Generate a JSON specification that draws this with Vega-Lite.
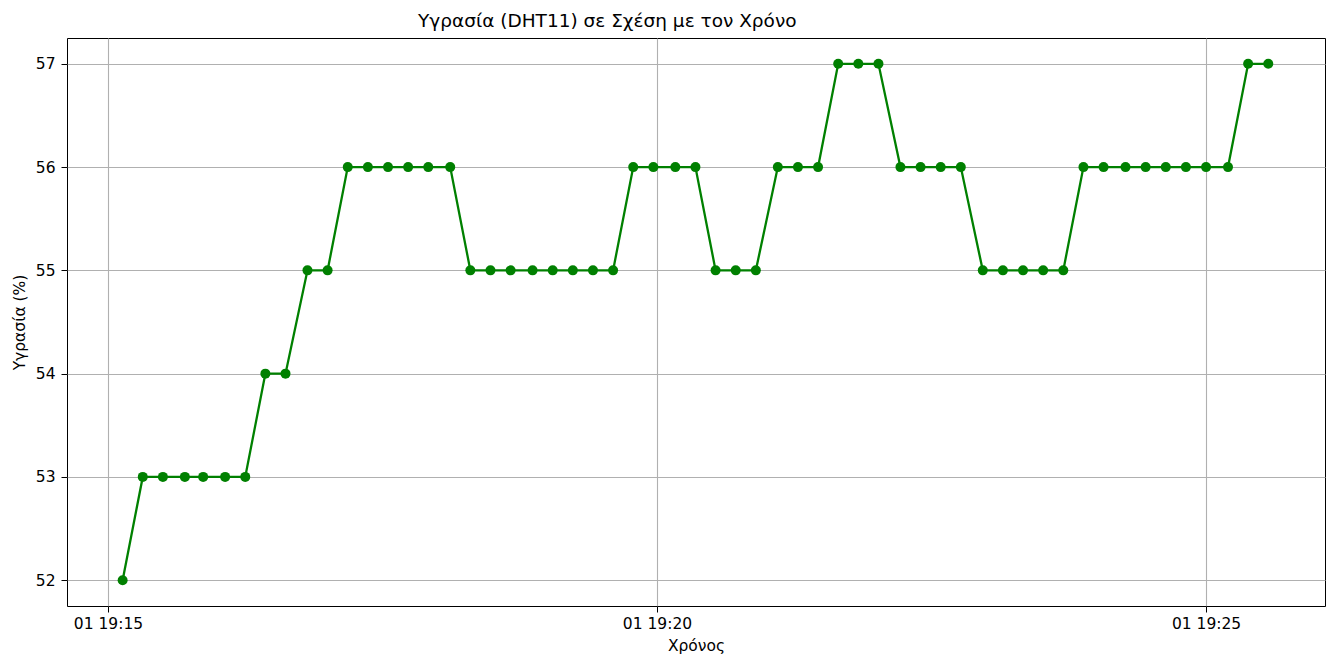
{
  "$schema": "https://vega.github.io/schema/vega-lite/v6.json",
  "autosize": "none",
  "width": 1258,
  "height": 568,
  "padding": {"left": 67, "top": 38, "right": 8, "bottom": 49},
  "background": "white",
  "title": {
    "text": "Υγρασία (DHT11) σε Σχέση με τον Χρόνο",
    "anchor": "start",
    "frame": "group",
    "dx": 351,
    "offset": 8,
    "font": "DejaVu Sans",
    "fontSize": 18.5,
    "fontWeight": "normal",
    "color": "black"
  },
  "config": {
    "view": {"stroke": "black", "strokeWidth": 1},
    "axis": {
      "labelFont": "DejaVu Sans",
      "labelFontSize": 15.5,
      "labelColor": "black",
      "titleFont": "DejaVu Sans",
      "titleFontSize": 15.5,
      "titleFontWeight": "normal",
      "titleColor": "black",
      "tickColor": "black",
      "tickSize": 6,
      "tickWidth": 1,
      "labelPadding": 4,
      "gridColor": "#b0b0b0",
      "gridWidth": 1.1,
      "gridOpacity": 1,
      "domain": false
    }
  },
  "data": {
    "values": [
      {"time": "2024-01-01T19:15:08", "humidity": 52},
      {"time": "2024-01-01T19:15:19", "humidity": 53},
      {"time": "2024-01-01T19:15:30", "humidity": 53},
      {"time": "2024-01-01T19:15:42", "humidity": 53},
      {"time": "2024-01-01T19:15:52", "humidity": 53},
      {"time": "2024-01-01T19:16:04", "humidity": 53},
      {"time": "2024-01-01T19:16:15", "humidity": 53},
      {"time": "2024-01-01T19:16:26", "humidity": 54},
      {"time": "2024-01-01T19:16:37", "humidity": 54},
      {"time": "2024-01-01T19:16:49", "humidity": 55},
      {"time": "2024-01-01T19:17:00", "humidity": 55},
      {"time": "2024-01-01T19:17:11", "humidity": 56},
      {"time": "2024-01-01T19:17:22", "humidity": 56},
      {"time": "2024-01-01T19:17:33", "humidity": 56},
      {"time": "2024-01-01T19:17:44", "humidity": 56},
      {"time": "2024-01-01T19:17:55", "humidity": 56},
      {"time": "2024-01-01T19:18:07", "humidity": 56},
      {"time": "2024-01-01T19:18:18", "humidity": 55},
      {"time": "2024-01-01T19:18:29", "humidity": 55},
      {"time": "2024-01-01T19:18:40", "humidity": 55},
      {"time": "2024-01-01T19:18:52", "humidity": 55},
      {"time": "2024-01-01T19:19:03", "humidity": 55},
      {"time": "2024-01-01T19:19:14", "humidity": 55},
      {"time": "2024-01-01T19:19:25", "humidity": 55},
      {"time": "2024-01-01T19:19:36", "humidity": 55},
      {"time": "2024-01-01T19:19:47", "humidity": 56},
      {"time": "2024-01-01T19:19:58", "humidity": 56},
      {"time": "2024-01-01T19:20:10", "humidity": 56},
      {"time": "2024-01-01T19:20:21", "humidity": 56},
      {"time": "2024-01-01T19:20:32", "humidity": 55},
      {"time": "2024-01-01T19:20:43", "humidity": 55},
      {"time": "2024-01-01T19:20:54", "humidity": 55},
      {"time": "2024-01-01T19:21:06", "humidity": 56},
      {"time": "2024-01-01T19:21:17", "humidity": 56},
      {"time": "2024-01-01T19:21:28", "humidity": 56},
      {"time": "2024-01-01T19:21:39", "humidity": 57},
      {"time": "2024-01-01T19:21:50", "humidity": 57},
      {"time": "2024-01-01T19:22:01", "humidity": 57},
      {"time": "2024-01-01T19:22:13", "humidity": 56},
      {"time": "2024-01-01T19:22:24", "humidity": 56},
      {"time": "2024-01-01T19:22:35", "humidity": 56},
      {"time": "2024-01-01T19:22:46", "humidity": 56},
      {"time": "2024-01-01T19:22:58", "humidity": 55},
      {"time": "2024-01-01T19:23:09", "humidity": 55},
      {"time": "2024-01-01T19:23:20", "humidity": 55},
      {"time": "2024-01-01T19:23:31", "humidity": 55},
      {"time": "2024-01-01T19:23:42", "humidity": 55},
      {"time": "2024-01-01T19:23:53", "humidity": 56},
      {"time": "2024-01-01T19:24:04", "humidity": 56},
      {"time": "2024-01-01T19:24:16", "humidity": 56},
      {"time": "2024-01-01T19:24:27", "humidity": 56},
      {"time": "2024-01-01T19:24:38", "humidity": 56},
      {"time": "2024-01-01T19:24:49", "humidity": 56},
      {"time": "2024-01-01T19:25:00", "humidity": 56},
      {"time": "2024-01-01T19:25:12", "humidity": 56},
      {"time": "2024-01-01T19:25:23", "humidity": 57},
      {"time": "2024-01-01T19:25:34", "humidity": 57}
    ]
  },
  "encoding": {
    "x": {
      "field": "time",
      "type": "temporal",
      "title": "Χρόνος",
      "scale": {
        "domain": [
          {"year": 2024, "month": 1, "date": 1, "hours": 19, "minutes": 14, "seconds": 37, "milliseconds": 600},
          {"year": 2024, "month": 1, "date": 1, "hours": 19, "minutes": 26, "seconds": 5}
        ]
      },
      "axis": {
        "values": [
          {"year": 2024, "month": 1, "date": 1, "hours": 19, "minutes": 15},
          {"year": 2024, "month": 1, "date": 1, "hours": 19, "minutes": 20},
          {"year": 2024, "month": 1, "date": 1, "hours": 19, "minutes": 25}
        ],
        "format": "%d %H:%M",
        "labelFlush": false,
        "titlePadding": 7
      }
    },
    "y": {
      "field": "humidity",
      "type": "quantitative",
      "title": "Υγρασία (%)",
      "scale": {"domain": [51.75, 57.25], "nice": false, "zero": false},
      "axis": {"values": [52, 53, 54, 55, 56, 57], "labelPadding": 6, "titlePadding": 8}
    }
  },
  "layer": [
    {"mark": {"type": "line", "color": "#008000", "strokeWidth": 2.3}},
    {"mark": {"type": "point", "filled": true, "color": "#008000", "opacity": 1, "size": 100}}
  ]
}
